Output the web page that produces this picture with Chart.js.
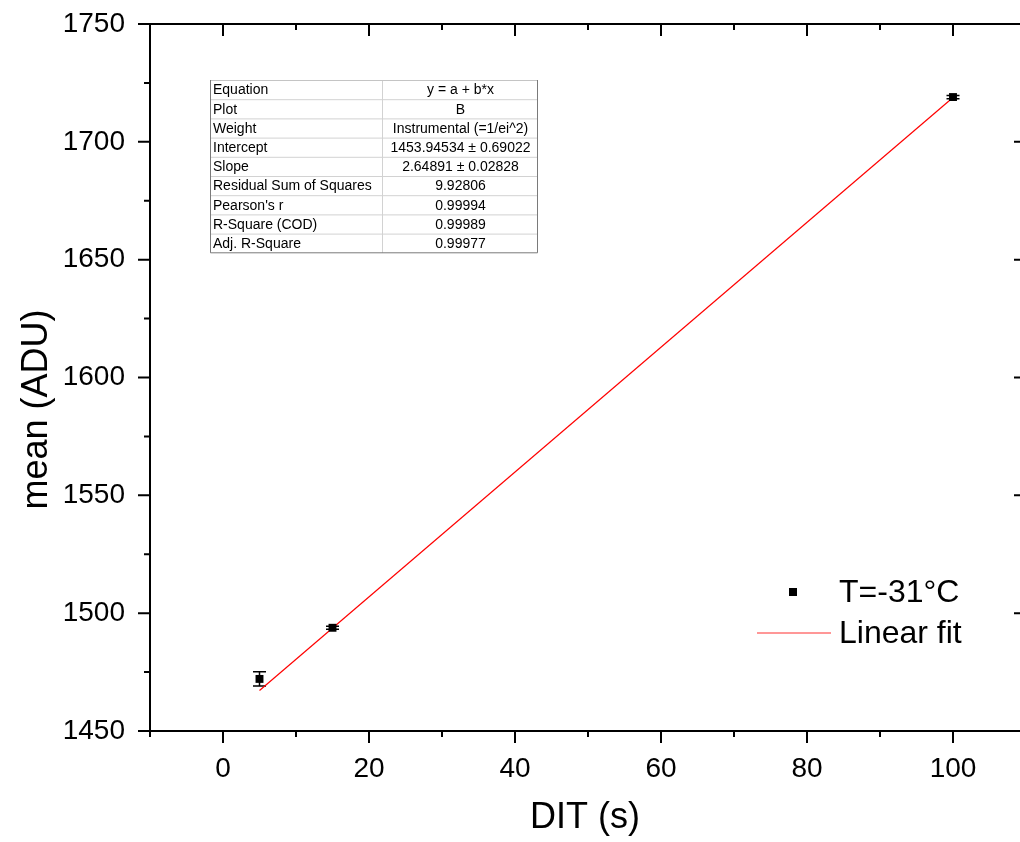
<!DOCTYPE html>
<html>
<head>
<meta charset="utf-8">
<script src="https://cdn.jsdelivr.net/npm/chart.js@4/dist/chart.umd.min.js"></script>
<style>
  html, body { margin: 0; padding: 0; background: #fff; overflow: hidden; }
  #plot { display: block; }
</style>
</head>
<body>
<canvas id="plot" width="1040" height="842"></canvas>
<script>
// measured dark level vs integration time
const dit = [5, 15, 100];
const meanAdu = [1472.1, 1493.8, 1719.0];
const errAdu = [3.0, 0.6, 0.7];

// weighted linear fit result
const fitIntercept = 1453.94534;
const fitSlope = 2.64891;
const fitRange = [5, 100];

const xTicks = [0, 20, 40, 60, 80, 100];
const yTicks = [1450, 1500, 1550, 1600, 1650, 1700, 1750];

const fitRows = ["Equation", "Plot", "Weight", "Intercept", "Slope",
  "Residual Sum of Squares", "Pearson's r", "R-Square (COD)", "Adj. R-Square"];
const fitValues = ["y = a + b*x", "B", "Instrumental (=1/ei^2)", "1453.94534 ± 0.69022",
  "2.64891 ± 0.02828", "9.92806", "0.99994", "0.99989", "0.99977"];

const FONT = "'Liberation Sans', Arial, sans-serif";

const points = dit.map((x, i) => ({ x: x, y: meanAdu[i] }));
const fitLine = fitRange.map(x => ({ x: x, y: fitIntercept + fitSlope * x }));

// error bars, frame with in/out ticks, axis titles, fit table and legend
const decorations = {
  id: "decorations",
  beforeDatasetsDraw(chart) {
    const ctx = chart.ctx;
    const xs = chart.scales.x, ys = chart.scales.y;
    ctx.save();
    ctx.strokeStyle = "#000";
    ctx.lineWidth = 1.5;
    dit.forEach((x, i) => {
      const px = xs.getPixelForValue(x);
      const top = ys.getPixelForValue(meanAdu[i] + errAdu[i]);
      const bot = ys.getPixelForValue(meanAdu[i] - errAdu[i]);
      ctx.beginPath();
      ctx.moveTo(px, top); ctx.lineTo(px, bot);
      ctx.moveTo(px - 6.5, top); ctx.lineTo(px + 6.5, top);
      ctx.moveTo(px - 6.5, bot); ctx.lineTo(px + 6.5, bot);
      ctx.stroke();
    });
    ctx.restore();
  },
  afterDraw(chart) {
    const ctx = chart.ctx;
    const a = chart.chartArea;
    const xs = chart.scales.x, ys = chart.scales.y;
    ctx.save();

    // frame
    ctx.strokeStyle = "#000";
    ctx.lineWidth = 2;
    ctx.strokeRect(a.left, a.top, a.right - a.left, a.bottom - a.top);

    // ticks: outward on bottom/left, inward on top/right
    ctx.beginPath();
    for (let v = xs.min; v <= xs.max; v += 10) {
      const len = v % 20 === 0 ? 12 : 6;
      const px = xs.getPixelForValue(v);
      ctx.moveTo(px, a.bottom); ctx.lineTo(px, a.bottom + len);
      ctx.moveTo(px, a.top); ctx.lineTo(px, a.top + len);
    }
    for (let v = ys.min; v <= ys.max; v += 25) {
      const len = v % 50 === 0 ? 12 : 6;
      const py = ys.getPixelForValue(v);
      ctx.moveTo(a.left, py); ctx.lineTo(a.left - len, py);
      ctx.moveTo(a.right, py); ctx.lineTo(a.right - len, py);
    }
    ctx.stroke();

    // axis titles
    ctx.fillStyle = "#000";
    ctx.font = "36px " + FONT;
    ctx.textAlign = "center";
    ctx.textBaseline = "alphabetic";
    ctx.fillText("DIT (s)", (a.left + a.right) / 2 - 3, 828);
    ctx.save();
    ctx.translate(47, (a.top + a.bottom) / 2 + 32);
    ctx.rotate(-Math.PI / 2);
    ctx.fillText("mean (ADU)", 0, 0);
    ctx.restore();

    // fit parameter table
    const tx = a.left + 60, ty = 80, c1 = 172, c2 = 155, rh = 19.2;
    const th = rh * fitRows.length;
    ctx.lineWidth = 1;
    ctx.strokeStyle = "#d2d2d2";
    ctx.beginPath();
    for (let r = 1; r < fitRows.length; r++) {
      ctx.moveTo(tx, ty + r * rh + 0.5); ctx.lineTo(tx + c1 + c2, ty + r * rh + 0.5);
    }
    ctx.moveTo(tx + c1 + 0.5, ty); ctx.lineTo(tx + c1 + 0.5, ty + th);
    ctx.stroke();
    ctx.strokeStyle = "#c4c4c4";
    ctx.beginPath();
    ctx.moveTo(tx, ty + 0.5); ctx.lineTo(tx + c1 + c2, ty + 0.5);
    ctx.stroke();
    ctx.strokeStyle = "#7a7a7a";
    ctx.beginPath();
    ctx.moveTo(tx + 0.5, ty); ctx.lineTo(tx + 0.5, ty + th);
    ctx.lineTo(tx + c1 + c2 + 0.5, ty + th);
    ctx.lineTo(tx + c1 + c2 + 0.5, ty);
    ctx.stroke();

    ctx.font = "14px " + FONT;
    ctx.textBaseline = "middle";
    fitRows.forEach((label, r) => {
      const cy = ty + r * rh + rh / 2 + 1;
      ctx.textAlign = "left";
      ctx.fillText(label, tx + 3, cy);
      ctx.textAlign = "center";
      ctx.fillText(fitValues[r], tx + c1 + c2 / 2 + 1, cy);
    });

    // legend
    ctx.fillRect(789, 588, 8, 8);
    ctx.strokeStyle = "#ff3030";
    ctx.lineWidth = 1.2;
    ctx.beginPath();
    ctx.moveTo(757, 633); ctx.lineTo(831, 633);
    ctx.stroke();
    ctx.font = "32px " + FONT;
    ctx.textAlign = "left";
    ctx.textBaseline = "middle";
    ctx.fillText("T=-31°C", 839, 593);
    ctx.fillText("Linear fit", 839, 634);

    ctx.restore();
  }
};

new Chart(document.getElementById("plot"), {
  type: "scatter",
  data: {
    datasets: [
      {
        label: "Linear fit",
        data: fitLine,
        showLine: true,
        borderColor: "#ff0000",
        borderWidth: 1.2,
        pointRadius: 0,
        fill: false,
        order: 2
      },
      {
        label: "T=-31°C",
        data: points,
        pointStyle: "rect",
        pointRadius: 5.6,
        pointBackgroundColor: "#000",
        pointBorderColor: "#000",
        pointBorderWidth: 0,
        order: 1
      }
    ]
  },
  options: {
    responsive: false,
    animation: false,
    layout: { padding: { top: 24, right: 14, bottom: 0, left: 0 } },
    plugins: {
      legend: { display: false },
      tooltip: { enabled: false }
    },
    scales: {
      x: {
        type: "linear",
        min: -10,
        max: 110,
        afterFit: s => { s.height = 111; s.paddingLeft = 0; s.paddingRight = 0; },
        afterBuildTicks: s => { s.ticks = xTicks.map(v => ({ value: v })); },
        grid: { display: false, drawTicks: false },
        border: { display: false },
        ticks: {
          color: "#000",
          padding: 21,
          maxRotation: 0,
          autoSkip: false,
          callback: v => String(v),
          font: { family: FONT, size: 28 }
        }
      },
      y: {
        type: "linear",
        min: 1450,
        max: 1750,
        afterFit: s => { s.width = 150; s.paddingTop = 0; s.paddingBottom = 0; },
        afterBuildTicks: s => { s.ticks = yTicks.map(v => ({ value: v })); },
        grid: { display: false, drawTicks: false },
        border: { display: false },
        ticks: {
          color: "#000",
          padding: 25,
          autoSkip: false,
          callback: v => String(v),
          font: { family: FONT, size: 28 }
        }
      }
    }
  },
  plugins: [decorations]
});
</script>
</body>
</html>
